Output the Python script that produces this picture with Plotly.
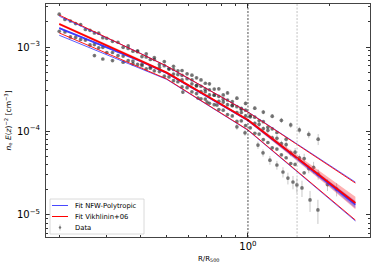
import plotly.graph_objects as go

# ---------------- data ----------------
# fitted profiles (R/R500 grid and n_e E(z)^-2 values)
R_FIT = [0.2, 0.3, 0.4, 0.5, 0.7, 1.0, 1.5, 2.0, 2.5]
VIK_MED = [1.88e-3, 1.05e-3, 6.9e-4, 4.95e-4, 2.64e-4, 1.35e-4, 4.94e-5, 2.43e-5, 1.39e-5]
VIK_HI = [2.40e-3, 1.30e-3, 8.4e-4, 5.94e-4, 3.22e-4, 1.68e-4, 7.1e-5, 3.87e-5, 2.40e-5]
VIK_LO = [1.47e-3, 8.4e-4, 5.7e-4, 4.17e-4, 2.11e-4, 1.03e-4, 3.45e-5, 1.59e-5, 8.7e-6]
VIK_BAND_HI = [1.95e-3, 1.09e-3, 7.15e-4, 5.1e-4, 2.72e-4, 1.40e-4, 5.35e-5, 2.75e-5, 1.65e-5]
VIK_BAND_LO = [1.81e-3, 1.01e-3, 6.65e-4, 4.8e-4, 2.56e-4, 1.30e-4, 4.55e-5, 2.15e-5, 1.17e-5]

NFW_MED = [1.68e-3, 1.00e-3, 6.8e-4, 4.9e-4, 2.63e-4, 1.34e-4, 4.9e-5, 2.38e-5, 1.33e-5]
NFW_HI = [2.33e-3, 1.29e-3, 8.4e-4, 5.9e-4, 3.22e-4, 1.69e-4, 7.2e-5, 3.95e-5, 2.46e-5]
NFW_LO = [1.38e-3, 8.1e-4, 5.6e-4, 4.12e-4, 2.09e-4, 1.02e-4, 3.40e-5, 1.56e-5, 8.5e-6]
NFW_BAND_HI = [1.72e-3, 1.02e-3, 6.9e-4, 4.98e-4, 2.67e-4, 1.37e-4, 5.1e-5, 2.55e-5, 1.47e-5]
NFW_BAND_LO = [1.64e-3, 0.98e-3, 6.7e-4, 4.82e-4, 2.59e-4, 1.31e-4, 4.7e-5, 2.22e-5, 1.20e-5]

# radial grids of the measured profiles
R_A = [0.20, 0.22, 0.24, 0.26, 0.28, 0.30, 0.33, 0.36, 0.39, 0.42, 0.45, 0.49, 0.53, 0.57,
       0.62, 0.67, 0.72, 0.78, 0.84, 0.91, 0.98, 1.06, 1.14, 1.23, 1.33, 1.44, 1.55, 1.68,
       1.82, 1.97, 2.13, 2.30]
R_B = [0.21, 0.23, 0.25, 0.27, 0.29, 0.315, 0.345, 0.375, 0.405, 0.435, 0.47, 0.51, 0.55,
       0.595, 0.645, 0.695, 0.75, 0.81, 0.875, 0.945, 1.02, 1.10, 1.185, 1.28, 1.385, 1.495,
       1.615, 1.75, 1.895, 2.05, 2.21]

N = None
NE_1 = [2.46e-3, 2.04e-3, 1.85e-3, 1.58e-3, 1.46e-3, 1.27e-3, 1.14e-3, 9.6e-4, 8.8e-4, 7.6e-4,
        7.1e-4, 6.0e-4, 5.4e-4, 4.6e-4, 4.07e-4, 3.41e-4, 3.10e-4, 2.59e-4, 2.34e-4, 1.95e-4,
        1.77e-4, 1.46e-4, 1.29e-4, 1.06e-4, N, N, N, N, N, N, N, N]
NE_2 = [1.54e-3, 1.32e-3, 1.23e-3, 1.06e-3, 9.8e-4, 8.6e-4, 7.9e-4, 6.9e-4, 6.2e-4, 5.5e-4,
        5.2e-4, 4.5e-4, 3.97e-4, 3.35e-4, 2.93e-4, 2.42e-4, 2.14e-4, 1.80e-4, 1.57e-4, 1.30e-4,
        1.16e-4, 9.4e-5, 7.9e-5, 6.3e-5, 5.2e-5, 4.1e-5, N, N, N, N, N, N]
NE_5 = [N, N, N, N, N, N, N, N, N, N, N, N,
        4.76e-4, 4.06e-4, 3.64e-4, 2.94e-4, 2.69e-4, 2.26e-4, 2.06e-4, 1.66e-4, 1.51e-4, 1.23e-4,
        1.07e-4, 8.3e-5, 7.1e-5, 5.5e-5, 4.8e-5, 3.57e-5, 3.06e-5, 2.30e-5, 2.03e-5, N]
ERR_5 = [N, N, N, N, N, N, N, N, N, N, N, N,
         0.03, 0.03, 0.03, 0.04, 0.04, 0.04, 0.05, 0.05, 0.05, 0.06, 0.06, 0.07, 0.08, 0.09,
         0.10, 0.12, 0.14, 0.16, 0.18, N]
NE_6 = [N, N, N, N, N, N, N,
        1.03e-3, 9.0e-4, 8.3e-4, 7.5e-4, 6.7e-4, 5.9e-4, 5.25e-4, 4.62e-4, 4.06e-4, 3.64e-4,
        3.18e-4, 2.84e-4, 2.46e-4, 2.13e-4, 1.87e-4, 1.68e-4, 1.50e-4, 1.34e-4, 1.18e-4, 1.03e-4,
        9.1e-5, 8.0e-5, N, N, N]
ERR_6 = [N, N, N, N, N, N, N,
         0.02, 0.02, 0.02, 0.02, 0.03, 0.03, 0.03, 0.03, 0.03, 0.04, 0.04, 0.04, 0.05, 0.05,
         0.05, 0.06, 0.06, 0.07, 0.08, 0.09, 0.10, 0.15, N, N, N]

NE_3 = [2.13e-3, 1.90e-3, 1.62e-3, 1.47e-3, 1.29e-3, 1.17e-3, 9.9e-4, 8.9e-4, 7.7e-4, 7.1e-4,
        6.2e-4, 5.5e-4, 4.7e-4, 4.2e-4, 3.5e-4, 3.15e-4, 2.69e-4, 2.39e-4, 2.03e-4, 1.81e-4,
        1.52e-4, 1.33e-4, 1.11e-4, 9.6e-5, 8.0e-5, N, N, N, N, N, N]
NE_4 = [1.51e-3, 1.30e-3, 1.21e-3, 1.07e-3, 9.9e-4, 8.6e-4, 7.8e-4, 6.8e-4, 6.25e-4, 5.6e-4,
        5.1e-4, 4.4e-4, 3.86e-4, 3.28e-4, 2.79e-4, 2.40e-4, 2.06e-4, 1.77e-4, 1.51e-4, 1.32e-4,
        1.09e-4, 9.2e-5, 7.3e-5, 6.1e-5, 4.8e-5, 4.0e-5, 3.18e-5, N, N, N, N]
NE_7 = [N, N, N,
        7.9e-4, 7.2e-4, 6.9e-4, 6.6e-4, 6.3e-4, 6.0e-4, 5.8e-4, 5.7e-4, 5.5e-4, 5.2e-4, 4.8e-4,
        4.3e-4, 3.7e-4, 3.16e-4, 2.69e-4, 2.24e-4, 1.86e-4,
        N, N, N, N, N, N, N, N, N, N, N]
NE_9 = [N, N, N, N, N, N, N, N, N, N, N, N, N, N,
        3.44e-4, 2.94e-4, 2.67e-4, 2.21e-4, 2.00e-4, 1.66e-4, 1.48e-4, 1.20e-4, 1.02e-4, 8.2e-5,
        6.9e-5, 5.6e-5, 4.7e-5, 3.70e-5, N, N, N]
ERR_9 = [N, N, N, N, N, N, N, N, N, N, N, N, N, N,
         0.03, 0.03, 0.04, 0.04, 0.05, 0.05, 0.06, 0.07, 0.08, 0.09, 0.10, 0.12, 0.14, 0.16,
         N, N, N]

R_8 = [0.574, 0.653, 0.705, 0.768, 0.910, 0.975, 1.089, 1.137, 1.206, 1.28, 1.348, 1.406,
       1.468, 1.518, 1.585, 1.698, 1.816]
NE_8 = [2.91e-4, 2.47e-4, 2.21e-4, 2.04e-4, 1.12e-4, 9.5e-5, 6.8e-5, 5.5e-5, 4.5e-5, 3.94e-5,
        3.25e-5, 2.75e-5, 2.47e-5, 2.28e-5, 2.10e-5, 1.51e-5, 1.15e-5]
ERR_8 = [0.05, 0.05, 0.06, 0.06, 0.08, 0.08, 0.10, 0.10, 0.12, 0.12, 0.14, 0.16, 0.18, 0.20,
         0.22, 0.28, 0.32]

ERR_INNER = 0.03          # relative error of the dense inner profiles
R_500_LINE = 1.0
R_200_LINE = 1.52
LEGEND_LABELS = ["Fit NFW-Polytropic", "Fit Vikhlinin+06", "Data"]

# ---------------- figure ----------------
W, H = 374, 267
ML, MR, MT, MB = 46, 4, 4, 30
PW, PH = W - ML - MR, H - MT - MB

fig = go.Figure()

M_COL = "rgba(45,45,45,0.62)"
E_COL = "rgba(100,100,100,0.45)"


def errs(y, frac):
    out = []
    for i, v in enumerate(y):
        f = frac[i] if isinstance(frac, list) else frac
        out.append(None if (v is None or f is None) else v * f)
    return out


def add_data(x, y, frac):
    fig.add_trace(go.Scatter(
        x=x, y=y, mode="markers", name="Data", showlegend=False,
        marker=dict(size=3.7, color=M_COL, line=dict(width=0)),
        error_y=dict(type="data", array=errs(y, frac), arrayminus=errs(y, frac),
                     visible=True, color=E_COL, thickness=0.8, width=0),
    ))


add_data(R_A, NE_1, ERR_INNER)
add_data(R_B, NE_3, ERR_INNER)
add_data(R_A, NE_2, ERR_INNER)
add_data(R_B, NE_4, ERR_INNER)
add_data(R_B, NE_7, ERR_INNER)
add_data(R_A, NE_5, ERR_5)
add_data(R_A, NE_6, ERR_6)
add_data(R_B, NE_9, ERR_9)
add_data(R_8, NE_8, ERR_8)


def band(lo, hi, col):
    fig.add_trace(go.Scatter(x=R_FIT, y=lo, mode="lines", line=dict(width=0),
                             showlegend=False, hoverinfo="skip"))
    fig.add_trace(go.Scatter(x=R_FIT, y=hi, mode="lines", line=dict(width=0),
                             fill="tonexty", fillcolor=col, showlegend=False,
                             hoverinfo="skip"))


band(VIK_BAND_LO, VIK_BAND_HI, "rgba(255,60,60,0.40)")
band(NFW_BAND_LO, NFW_BAND_HI, "rgba(60,60,255,0.40)")

BLUE = "rgba(40,40,255,0.85)"
RED = "rgb(255,0,0)"
for ys, w in [(NFW_HI, 0.9), (NFW_LO, 0.9), (NFW_MED, 1.8)]:
    fig.add_trace(go.Scatter(x=R_FIT, y=ys, mode="lines", name=LEGEND_LABELS[0],
                             line=dict(color=BLUE, width=w), showlegend=False))
for ys, w in [(VIK_HI, 0.9), (VIK_LO, 0.9), (VIK_MED, 1.8)]:
    fig.add_trace(go.Scatter(x=R_FIT, y=ys, mode="lines", name=LEGEND_LABELS[1],
                             line=dict(color=RED, width=w), showlegend=False))

fig.add_shape(type="line", xref="x", yref="paper", x0=R_500_LINE, x1=R_500_LINE, y0=0, y1=1,
              line=dict(color="black", width=0.7, dash="2px,1.5px"))
fig.add_shape(type="line", xref="x", yref="paper", x0=R_200_LINE, x1=R_200_LINE, y0=0, y1=1,
              line=dict(color="#a8a8a8", width=0.7, dash="2px,1.5px"))


# ---- hand-made legend (matplotlib-like compact box) ----
def px(xp):
    return (xp - ML) / PW


def py(yp):
    return (H - MB - yp) / PH


fig.add_shape(type="rect", xref="paper", yref="paper", x0=px(50), x1=px(144), y0=py(234),
              y1=py(199), line=dict(color="#d0d0d0", width=0.8),
              fillcolor="rgba(255,255,255,0.85)", layer="above")
rows = [205.5, 216.5, 227.5]
fig.add_shape(type="line", xref="paper", yref="paper", x0=px(52), x1=px(68),
              y0=py(rows[0]), y1=py(rows[0]), line=dict(color=BLUE, width=1), layer="above")
fig.add_shape(type="line", xref="paper", yref="paper", x0=px(52), x1=px(68),
              y0=py(rows[1]), y1=py(rows[1]), line=dict(color=RED, width=1), layer="above")
fig.add_shape(type="line", xref="paper", yref="paper", x0=px(60), x1=px(60),
              y0=py(rows[2] + 3), y1=py(rows[2] - 3), line=dict(color=E_COL, width=0.8),
              layer="above")
fig.add_shape(type="circle", xref="paper", yref="paper", x0=px(58.8), x1=px(61.2),
              y0=py(rows[2] + 1.2), y1=py(rows[2] - 1.2), line=dict(width=0),
              fillcolor=M_COL, layer="above")
for lab, r in zip(LEGEND_LABELS, rows):
    fig.add_annotation(text=lab, xref="paper", yref="paper", x=px(73), y=py(r),
                       xanchor="left", yanchor="middle", showarrow=False,
                       font=dict(family="DejaVu Sans", size=6.8, color="black"))

FONT = "DejaVu Sans"
x_minor = [0.2, 0.3, 0.4, 0.5, 0.6, 0.7, 0.8, 0.9, 2.0]
y_minor = [m * d for d in (1e-6, 1e-5, 1e-4, 1e-3) for m in range(2, 10)]

fig.update_xaxes(
    type="log", range=[-0.748, 0.452], tickvals=[1], ticktext=["10<sup>0</sup>"],
    ticks="inside", ticklen=4, tickwidth=0.8, tickcolor="#333",
    showline=True, linecolor="#444", linewidth=1, mirror="ticks",
    showgrid=False, zeroline=False, automargin=False,
    minor=dict(tickvals=x_minor, ticks="inside", ticklen=2, tickwidth=0.6,
               tickcolor="#333", showgrid=False),
    tickfont=dict(family=FONT, size=10, color="black"),
)
fig.update_yaxes(
    type="log", range=[-5.262, -2.488], tickvals=[1e-5, 1e-4, 1e-3],
    ticktext=["10<sup>−5</sup>", "10<sup>−4</sup>", "10<sup>−3</sup>"],
    ticks="inside", ticklen=4, tickwidth=0.8, tickcolor="#333",
    showline=True, linecolor="#444", linewidth=1, mirror="ticks",
    showgrid=False, zeroline=False, automargin=False, ticklabelstandoff=3,
    minor=dict(tickvals=y_minor, ticks="inside", ticklen=2, tickwidth=0.6,
               tickcolor="#333", showgrid=False),
    tickfont=dict(family=FONT, size=10, color="black"),
)

# axis titles
fig.add_annotation(text="R/R<sub>500</sub>", xref="paper", yref="paper", x=0.5, y=py(259),
                   xanchor="center", yanchor="middle", showarrow=False,
                   font=dict(family=FONT, size=7, color="black"))
fig.add_annotation(text="<i>n</i><sub>e</sub> <i>E</i>(<i>z</i>)<sup>−2</sup> [cm<sup>−3</sup>]",
                   xref="paper", yref="paper", x=px(8), y=0.5, textangle=-90,
                   xanchor="center", yanchor="middle", showarrow=False,
                   font=dict(family=FONT, size=7.5, color="black"))

fig.update_layout(
    width=W, height=H,
    margin=dict(l=ML, r=MR, t=MT, b=MB),
    paper_bgcolor="white", plot_bgcolor="white",
    font=dict(family=FONT, size=7, color="black"),
    showlegend=False,
)

fig.write_html("out.html", config={"displayModeBar": False},
               post_script="document.body.style.margin='0';document.body.style.overflow='hidden';")
